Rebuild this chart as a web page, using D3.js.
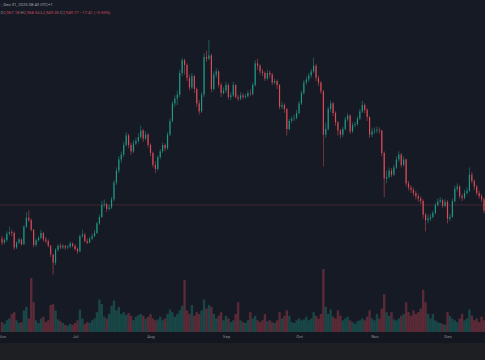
<!DOCTYPE html>
<html><head><meta charset="utf-8">
<script src="https://cdn.jsdelivr.net/npm/d3@7"></script>
<style>html,body{margin:0;padding:0;background:#1e1f22;overflow:hidden}svg{display:block}</style>
</head><body>
<script>
// ---- data (daily candles, Jun 1 2025 onward) ----
const startDate = "2025-06-01";
const firstOpen = 2530;
const lastPrice = 2950;
const monthTicks = ["Jun", "Jul", "Aug", "Sep", "Oct", "Nov", "Dec"];

const closesJun = [2480,2510,2590,2610,2600,2420,2480,2520,2460,2680,2790,2760,2640,2450,2510,2540,2600,2520,2500,2440,2330,2230,2390,2440,2420,2440,2420,2430,2470,2440];
const highsJun  = [2560,2540,2620,2680,2640,2620,2500,2540,2530,2700,2860,2880,2780,2650,2530,2560,2640,2610,2550,2520,2450,2340,2410,2460,2470,2460,2450,2450,2490,2480];
const lowsJun   = [2450,2460,2490,2570,2560,2390,2400,2460,2440,2450,2660,2740,2620,2420,2430,2490,2520,2490,2470,2420,2300,2080,2200,2370,2400,2400,2390,2400,2410,2420];
const volsJun   = [110,90,130,150,200,220,130,100,110,240,280,150,600,330,130,100,150,170,110,130,300,310,240,140,120,100,80,70,90,80];

const closesJul = [2400,2370,2560,2580,2500,2480,2530,2560,2600,2720,2800,2950,2960,2900,2920,3020,3230,3380,3520,3580,3700,3820,3700,3620,3720,3750,3800,3880,3780,3830,3700];
const highsJul  = [2460,2420,2580,2640,2600,2530,2550,2590,2640,2740,2830,3000,3020,2980,2960,3050,3260,3420,3560,3620,3740,3860,3840,3730,3760,3790,3850,3940,3900,3870,3850];
const lowsJul   = [2380,2340,2360,2540,2480,2460,2470,2510,2550,2590,2700,2790,2920,2860,2880,2900,3000,3200,3350,3480,3550,3680,3660,3580,3600,3700,3720,3780,3740,3760,3670];
const volsJul   = [100,130,250,150,90,110,100,130,150,220,360,310,170,150,200,290,350,240,280,200,220,190,210,180,130,170,190,200,180,150,170];

const closesAug = [3600,3450,3400,3550,3620,3700,3660,3830,4000,4220,4280,4330,4600,4760,4700,4540,4420,4560,4400,4220,4120,4330,4800,4780,4820,4400,4580,4620,4450,4350,4380];
const highsAug  = [3720,3620,3500,3570,3650,3730,3720,3860,4030,4250,4320,4380,4640,4790,4780,4720,4580,4600,4580,4420,4260,4360,4850,4880,5010,4840,4620,4660,4640,4480,4420];
const lowsAug   = [3560,3420,3350,3380,3520,3600,3620,3640,3810,3980,4180,4200,4300,4560,4580,4500,4380,4400,4350,4180,4080,4100,4300,4740,4760,4360,4380,4540,4420,4300,4330];
const volsAug   = [200,150,130,140,170,130,150,200,250,220,170,200,240,290,580,240,200,300,180,220,200,240,360,260,300,280,200,150,180,220,130];

const closesSep = [4450,4300,4320,4450,4300,4280,4320,4300,4310,4350,4340,4450,4720,4690,4620,4600,4530,4600,4580,4480,4500,4450,4180,4200,4150,3900,4000,4030,4040,4100];
const highsSep  = [4490,4470,4360,4490,4460,4330,4360,4350,4340,4380,4400,4480,4760,4780,4710,4650,4620,4640,4630,4600,4530,4520,4460,4240,4220,4160,4030,4060,4080,4140];
const lowsSep   = [4350,4270,4260,4300,4280,4250,4260,4270,4280,4290,4310,4320,4430,4640,4580,4560,4500,4510,4540,4450,4460,4400,4150,4150,4100,3820,3880,3970,4000,4020];
const volsSep   = [180,150,110,130,200,330,130,110,100,130,220,150,180,130,110,130,200,120,130,110,100,130,220,150,180,240,180,110,100,130];

const closesOct = [4220,4350,4480,4520,4570,4620,4690,4540,4480,4370,3830,3900,4150,4220,4100,3980,3880,3830,3900,4020,4070,3870,3950,3960,4030,4120,4200,4140,4050,3830,3870];
const highsOct  = [4250,4380,4510,4560,4600,4650,4790,4710,4570,4500,4390,3980,4180,4260,4240,4120,4000,3900,3930,4050,4100,4080,3980,3990,4060,4150,4250,4220,4160,4060,3910];
const lowsOct   = [4080,4200,4330,4450,4490,4540,4600,4500,4440,4340,3430,3790,3880,4110,4060,3940,3820,3780,3800,3880,3990,3840,3850,3920,3940,4010,4100,4100,4000,3790,3800];
const volsOct   = [150,130,140,170,130,150,220,180,150,200,700,280,200,250,170,150,240,180,130,150,170,130,110,90,120,130,150,130,170,240,150];

const closesNov = [3880,3890,3880,3600,3280,3300,3380,3330,3420,3520,3580,3450,3520,3220,3170,3140,3100,3060,3030,3000,2830,2760,2780,2800,2850,2950,2990,3010,2940,2990];
const highsNov  = [3920,3930,3920,3890,3620,3380,3420,3410,3450,3560,3620,3600,3560,3530,3250,3200,3170,3130,3090,3060,3020,2850,2830,2840,2880,2980,3030,3050,3030,3020];
const lowsNov   = [3840,3850,3840,3560,3050,3220,3280,3300,3310,3400,3490,3420,3430,3180,3130,3100,3060,3020,2990,2960,2780,2620,2720,2750,2780,2830,2930,2970,2910,2920];
const volsNov   = [130,200,150,260,420,220,180,220,140,130,150,180,200,330,220,180,240,200,220,260,470,330,200,150,200,130,110,100,90,80];

const closesDec = [2780,2800,3000,3150,3180,3060,3040,3100,3130,3330,3250,3180,3100,3060,3020,2880,2900];
const highsDec  = [3010,2840,3030,3190,3220,3200,3090,3140,3170,3420,3360,3270,3200,3130,3090,3040,2940];
const lowsDec   = [2720,2750,2790,2980,3120,3030,3000,3020,3080,3110,3220,3140,3070,3030,2990,2850,2860];
const volsDec   = [220,180,150,130,110,150,200,130,150,250,180,130,150,110,170,130,110];

// ---- build table ----
const closes = [].concat(closesJun, closesJul, closesAug, closesSep, closesOct, closesNov, closesDec);
const highs  = [].concat(highsJun, highsJul, highsAug, highsSep, highsOct, highsNov, highsDec);
const lows   = [].concat(lowsJun, lowsJul, lowsAug, lowsSep, lowsOct, lowsNov, lowsDec);
const vols   = [].concat(volsJun, volsJul, volsAug, volsSep, volsOct, volsNov, volsDec);
const parse = d3.utcParse("%Y-%m-%d");
const t0 = parse(startDate);
const candles = closes.map((c, i) => ({
  date: d3.utcDay.offset(t0, i),
  open: i === 0 ? firstOpen : closes[i - 1],
  close: c, high: highs[i], low: lows[i], vol: vols[i]
}));

// ---- layout ----
const W = 485, H = 360, plotBottom = 332, axisBottom = 343;
const UP = "#22ab94", DOWN = "#f7525f";
const svg = d3.select("body").append("svg").attr("width", W).attr("height", H);
svg.append("rect").attr("width", W).attr("height", H).attr("fill", "#1e1f22");
svg.append("rect").attr("width", W).attr("height", plotBottom).attr("fill", "#161a25");
svg.append("rect").attr("y", plotBottom).attr("width", W).attr("height", axisBottom - plotBottom).attr("fill", "#14171f");

const x = d3.scaleUtc().domain([parse("2025-06-01"), parse("2025-12-01")]).range([2, 447.5]);
const y = d3.scaleLinear().domain([1362.5, 5512.5]).range([plotBottom, 0]);
const yv = d3.scaleLinear().domain([0, 700]).range([plotBottom, plotBottom - 63]);

const plot = svg.append("g");

// volume
plot.append("g").selectAll("rect").data(candles).join("rect")
  .attr("x", d => x(d.date) - 1.2).attr("width", 2.4)
  .attr("y", d => yv(d.vol)).attr("height", d => plotBottom - yv(d.vol))
  .attr("fill", d => d.close >= d.open ? UP : DOWN).attr("opacity", 0.3);

// last price line
plot.append("line").attr("x1", 0).attr("x2", W)
  .attr("y1", y(lastPrice)).attr("y2", y(lastPrice))
  .attr("stroke", "#f7525f").attr("stroke-opacity", 0.25).attr("stroke-width", 0.8);

// candles
const cg = plot.append("g").selectAll("g").data(candles).join("g");
cg.append("line")
  .attr("x1", d => x(d.date)).attr("x2", d => x(d.date))
  .attr("y1", d => y(d.high)).attr("y2", d => y(d.low))
  .attr("stroke", d => d.close >= d.open ? UP : DOWN).attr("stroke-width", 0.6).attr("opacity", 0.8);
cg.append("rect")
  .attr("x", d => x(d.date) - 0.6).attr("width", 1.2)
  .attr("y", d => y(Math.max(d.open, d.close)))
  .attr("height", d => Math.max(0.6, Math.abs(y(d.open) - y(d.close))))
  .attr("fill", d => d.close >= d.open ? UP : DOWN).attr("opacity", 0.78);

// x axis
const monthDates = d3.utcMonth.range(parse("2025-06-01"), parse("2026-01-01"));
const ax = svg.append("g").attr("transform", `translate(0,${plotBottom})`)
  .call(d3.axisBottom(x).tickValues(monthDates).tickFormat((d, i) => monthTicks[i]).tickSize(0).tickPadding(0));
ax.select(".domain").remove();
ax.selectAll("text").attr("y", 4).attr("dy", "0.35em")
  .attr("fill", "#8c8f98").attr("font-size", "4.3px").attr("font-family", "Roboto, sans-serif");

// header
const hdr = svg.append("g").attr("font-family", "Roboto, sans-serif").attr("font-size", "4.2px");
hdr.append("text").attr("x", 0.5).attr("y", 6).attr("fill", "#a3a6af")
  .text("\u00b7, Dec 31, 2025 08:43 UTC+1");
const ohlc = [["O", "2,967.18"], ["H", "2,968.56"], ["L", "2,949.00"], ["C", "2,949.77"]];
const t2 = hdr.append("text").attr("x", 0.5).attr("y", 14);
ohlc.forEach(([k, v]) => {
  t2.append("tspan").attr("fill", "#8c8f98").text(k);
  t2.append("tspan").attr("fill", "#c94a58").text(v + " ");
});
t2.append("tspan").attr("fill", "#c94a58").text("\u221217.41 (\u22120.59%)");
</script>
</body></html>
